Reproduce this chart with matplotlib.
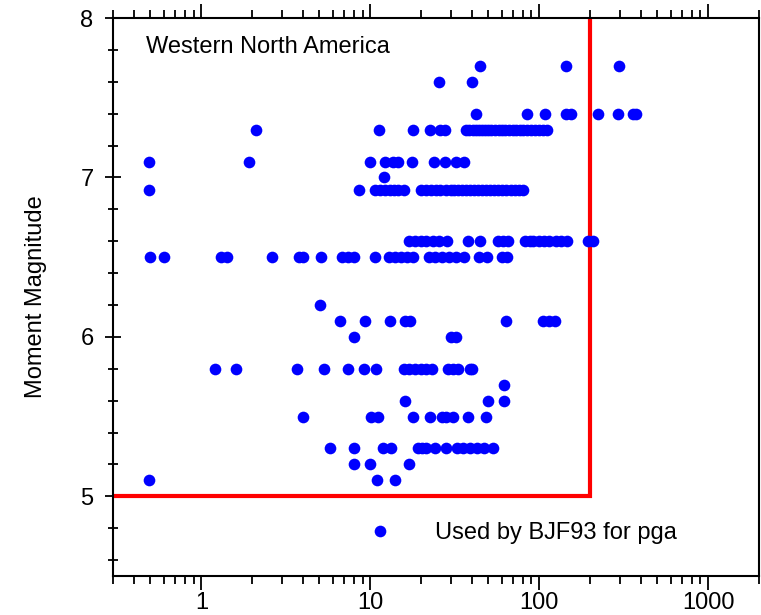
import matplotlib as mpl
mpl.use('Agg')
import matplotlib.pyplot as plt
import matplotlib.ticker as ticker
import numpy as np
from matplotlib import rcParams

rcParams['font.family'] = ['Liberation Sans', 'DejaVu Sans']
rcParams['font.size'] = 17

#--------------------------------------------------------------------------------------------------
# distance (km) for each magnitude row
d_77  = [44.6, 145, 297]
d_76  = [25.5, 40.0]
d_74  = [42.1, 84.7, 108, 145, 155, 223, 293, 359, 373]
d_73  = [2.10, 11.3, 17.8, 22.5, 25.8, 27.6, 36.8, 38.5, 40.5, 42, 44, 46, 48, 50, 52, 55, 58, 60, 63,
         66, 70, 73, 77, 80, 85, 90, 95, 100, 105, 111]
d_71  = [0.49, 1.905, 9.9, 12.3, 13.6, 14.6, 17.6, 23.7, 27.7, 32.3, 35.9]
d_70  = [12.0]
d_692 = [0.49, 8.57, 10.6, 11.4, 12.2, 13.0, 13.8, 14.6, 15.8, 20, 21.5, 23, 24.5, 26, 28, 30, 31.5, 33,
         35, 37, 39, 41, 43.5, 46, 48.5, 51, 54, 57, 60, 64, 68, 72, 76, 80.6]
d_66  = [17.0, 18.5, 20, 21.5, 23.5, 25.5, 28.6, 37.7, 44.4, 57, 61, 65.7, 82, 88, 92, 100, 107, 115,
         125, 135, 147, 195, 207]
d_65  = [0.50, 0.598, 1.31, 1.41, 2.62, 3.78, 4.0, 5.09, 6.8, 7.4, 8.0, 10.6, 12.9, 14.0, 15.3, 16.5,
         17.8, 22.2, 24.3, 26.6, 29.2, 32, 35.9, 43.8, 49.3, 60.2, 64.2]
d_62  = [5.01]
d_61  = [6.59, 9.3, 13.0, 16.0, 17.3, 63.4, 105, 114, 124]
d_60  = [8.0, 30.2, 32.3]
d_58  = [1.20, 1.60, 3.70, 5.32, 7.41, 9.14, 10.8, 15.8, 17.0, 18.4, 19.9, 21.5, 23.3, 28.7, 30.9, 33.2,
         38.8, 40.2]
d_57  = [62.2]
d_56  = [16.0, 49.8, 62.2]
d_55  = [4.0, 10.1, 11.1, 17.8, 22.6, 26.4, 28.2, 30.9, 37.7, 48.2]
d_53  = [5.8, 8.0, 11.9, 13.2, 19.2, 20.3, 21.5, 24.0, 28.0, 32.5, 35.5, 39, 43, 47, 53.1]
d_52  = [8.0, 9.96, 17.0]
d_51  = [0.49, 11.0, 14.0]

mags  = [7.7, 7.6, 7.4, 7.3, 7.1, 7.0, 6.92, 6.6, 6.5, 6.2, 6.1, 6.0, 5.8, 5.7, 5.6, 5.5, 5.3, 5.2, 5.1]
rows  = [d_77, d_76, d_74, d_73, d_71, d_70, d_692, d_66, d_65, d_62, d_61, d_60, d_58, d_57, d_56,
         d_55, d_53, d_52, d_51]

# BJF93 limits: distance < 200 km, magnitude > 5
lim_dist = [0.3, 200, 200]
lim_mag  = [5.0, 5.0, 8.0]
#--------------------------------------------------------------------------------------------------

dist = np.concatenate([np.array(r, float) for r in rows])
mag  = np.concatenate([np.full(len(r), m) for r, m in zip(rows, mags)])

fig = plt.figure(figsize=(7.61, 6.15), dpi=100)
ax = fig.add_axes([0.1485, 0.0634, 0.8489, 0.9073])

ax.plot(dist, mag, 'o', color='#0000ff', markersize=8.4, markeredgewidth=0, label='Used by BJF93 for pga',
        zorder=3)
ax.plot(lim_dist, lim_mag, '-', color='#ff0000', lw=3, zorder=2, solid_joinstyle='miter')

ax.set_xscale('log')
ax.set_xlim(0.3, 2000)
ax.set_ylim(4.5, 8)
ax.xaxis.set_major_formatter(ticker.FuncFormatter(lambda x, p: '%g' % x))
ax.xaxis.set_minor_formatter(ticker.NullFormatter())
ax.yaxis.set_major_locator(ticker.MultipleLocator(1))
ax.yaxis.set_minor_locator(ticker.MultipleLocator(0.2))

for s in ax.spines.values():
    s.set_linewidth(1.5)
ax.tick_params(axis='x', which='both', direction='out', top=True, bottom=True, width=1.3)
ax.tick_params(axis='x', which='major', length=10, pad=1.5)
ax.tick_params(axis='x', which='minor', length=6)
ax.tick_params(axis='y', which='both', direction='inout', left=True, right=False, width=1.3)
ax.tick_params(axis='y', which='major', length=12, pad=8)
ax.tick_params(axis='y', which='minor', length=7)

ax.set_ylabel('Moment Magnitude', labelpad=24)
ax.text(0.051, 0.948, 'Western North America', transform=ax.transAxes, ha='left', va='center')

ax.legend(loc='center left', bbox_to_anchor=(0.3955, 0.077), frameon=False, handlelength=1.0,
          handletextpad=1.8, borderpad=0, borderaxespad=0, numpoints=1)

plt.savefig('out.png', dpi=100)
